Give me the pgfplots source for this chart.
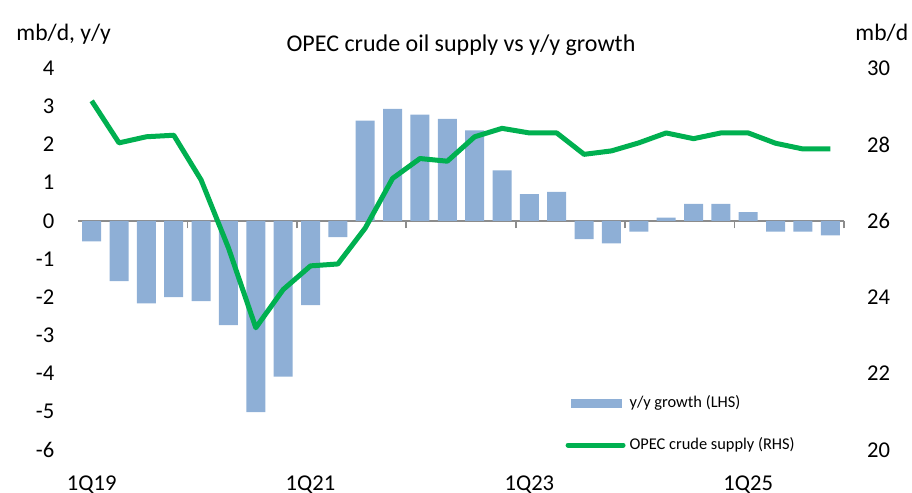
\documentclass[border=0pt]{standalone}
\usepackage{pgfplots}
\pgfplotsset{compat=1.18}
\usepackage{fontspec}
\setmainfont{Carlito}
\definecolor{barcol}{HTML}{8EAFD6}
\definecolor{linecol}{HTML}{00B050}
\definecolor{zerocol}{HTML}{8C8C8C}
\begin{document}
\begin{tikzpicture}
\path[use as bounding box] (-39pt,-21.5pt) rectangle (417pt,225pt);
\begin{axis}[
  name=ax,
  at={(0,0)}, anchor=south west,
  width=383pt, height=191pt, scale only axis,
  xmin=-0.5, xmax=27.5, ymin=-6, ymax=4,
  axis x line*=middle, axis y line*=left,
  y axis line style={draw=none},
  x axis line style={zerocol, line width=0.8pt},
  xtick={-0.5,3.5,...,27.5}, xticklabels={},
  xtick style={zerocol, line width=0.8pt},
  major tick length=3.8pt, tick align=outside,
  ytick={-6,-5,...,4}, ytick style={draw=none},
  yticklabel style={anchor=east, xshift=-4.5pt},
  /pgf/number format/assume math mode=true,
  tick label style={font=\fontsize{11.3}{13}\selectfont},
  clip=false,
]
\addplot[ybar, bar width=9.5pt, fill=barcol, draw=none] coordinates {
(0,-0.54) (1,-1.58) (2,-2.16) (3,-2.00) (4,-2.10) (5,-2.73) (6,-5.01) (7,-4.08)
(8,-2.21) (9,-0.43) (10,2.62) (11,2.93) (12,2.78) (13,2.67) (14,2.37) (15,1.32)
(16,0.70) (17,0.76) (18,-0.48) (19,-0.59) (20,-0.28) (21,0.08) (22,0.44) (23,0.44)
(24,0.23) (25,-0.28) (26,-0.28) (27,-0.38)
};
\end{axis}
\begin{axis}[
  at={(0,0)}, anchor=south west,
  width=383pt, height=191pt, scale only axis,
  xmin=-0.5, xmax=27.5, ymin=20, ymax=30,
  axis x line*=bottom, axis y line*=right,
  x axis line style={draw=none}, y axis line style={draw=none},
  xtick={0,8,16,24}, xticklabels={1Q19,1Q21,1Q23,1Q25},
  xtick style={draw=none}, ytick style={draw=none},
  ytick={20,22,...,30},
  yticklabel style={anchor=west, xshift=8pt},
  xticklabel style={anchor=base, yshift=-20pt},
  /pgf/number format/assume math mode=true,
  tick label style={font=\fontsize{11.3}{13}\selectfont},
  legend style={draw=none, fill=none, at={(rel axis cs:0.636,0.154)}, anchor=north west,
    font=\fontsize{8.2}{10}\selectfont, row sep=9.5pt, inner sep=0pt},
  legend cell align=left,
  clip=false,
]
\addlegendimage{legend image code/.code={\fill[barcol] (2pt,-2pt) rectangle (27pt,2pt);}}
\addlegendentry{y/y growth (LHS)}
\addplot[linecol, line width=2.5pt, line join=round,
  legend image code/.code={\draw[linecol, line width=2.5pt, line cap=round] (0.5pt,0pt) -- (28pt,0pt);}]
coordinates {
(0,29.14) (1,28.04) (2,28.20) (3,28.24) (4,27.07) (5,25.29) (6,23.20) (7,24.20)
(8,24.82) (9,24.87) (10,25.81) (11,27.11) (12,27.63) (13,27.56) (14,28.20) (15,28.42)
(16,28.30) (17,28.30) (18,27.74) (19,27.83) (20,28.04) (21,28.30) (22,28.15) (23,28.30)
(24,28.30) (25,28.03) (26,27.88) (27,27.88)
};
\addlegendentry{OPEC crude supply (RHS)}
\end{axis}
\node[anchor=base west, inner sep=0pt, font=\fontsize{11.8}{14}\selectfont] at (-31pt,204.5pt) {mb/d, y/y};
\node[anchor=base west, inner sep=0pt, font=\fontsize{11.8}{14}\selectfont] at (388.5pt,204.5pt) {mb/d};
\node[anchor=base, font=\fontsize{12}{14}\selectfont] at (191.5pt,199pt) {OPEC crude oil supply vs y/y growth};
\end{tikzpicture}
\end{document}
